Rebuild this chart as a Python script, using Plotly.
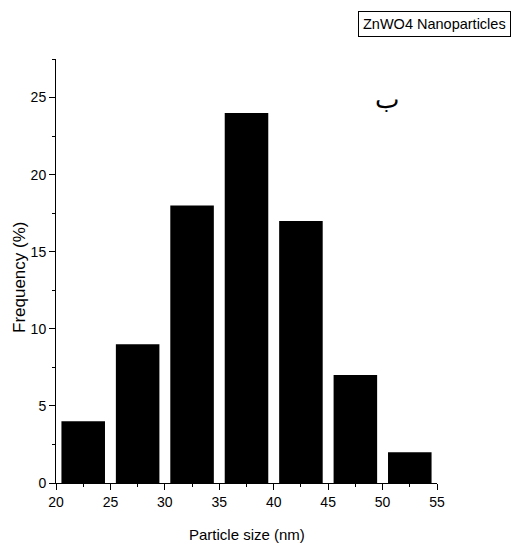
import plotly.graph_objects as go

bin_centers = [22.5, 27.5, 32.5, 37.5, 42.5, 47.5, 52.5]
frequency = [4, 9, 18, 24, 17, 7, 2]
x_ticks = [20, 25, 30, 35, 40, 45, 50, 55]
y_ticks = [0, 5, 10, 15, 20, 25]
x_title = "Particle size (nm)"
y_title = "Frequency (%)"
legend_label = "ZnWO4 Nanoparticles"
panel_label = "ب"

FONT = "Liberation Sans, Arial, sans-serif"
L, R, T, B = 56, 77, 59, 63
W, H = 514, 546
PW, PH = W - L - R, H - T - B


def px(xp):
    return (xp - L) / PW


def py(yp):
    return (H - B - yp) / PH


fig = go.Figure()
fig.add_trace(go.Bar(
    x=bin_centers, y=frequency, width=4,
    marker=dict(color="black", line=dict(width=0)),
    showlegend=False,
))

axis_common = dict(
    ticks="outside", ticklen=6, tickwidth=1, tickcolor="black",
    showline=True, linecolor="black", linewidth=1,
    showgrid=False, zeroline=False, tickfont=dict(size=14),
    automargin=False,
)

fig.update_layout(
    width=W, height=H,
    margin=dict(l=L, r=R, t=T, b=B),
    paper_bgcolor="white", plot_bgcolor="white",
    font=dict(family=FONT, color="black", size=14),
    xaxis=dict(
        range=[20, 55], tickvals=x_ticks,
        minor=dict(dtick=2.5, tick0=20, ticks="outside", ticklen=3, tickcolor="black", showgrid=False),
        **axis_common,
    ),
    yaxis=dict(
        range=[0, 27.5], tickvals=y_ticks,
        minor=dict(dtick=2.5, tick0=0, ticks="outside", ticklen=3, tickcolor="black", showgrid=False),
        **axis_common,
    ),
    annotations=[
        dict(text=x_title, xref="paper", yref="paper", x=px(247), y=py(534),
             xanchor="center", yanchor="middle", showarrow=False, font=dict(size=15)),
        dict(text=y_title, xref="paper", yref="paper", x=px(19), y=py(278),
             xanchor="center", yanchor="middle", showarrow=False, textangle=-90,
             font=dict(size=17)),
        dict(text=legend_label, xref="paper", yref="paper", x=px(511), y=py(11),
             xanchor="right", yanchor="top", showarrow=False, bordercolor="black", borderwidth=1,
             borderpad=4, bgcolor="white", font=dict(size=14.5)),
        dict(text=panel_label, xref="paper", yref="paper", x=px(387), y=py(99),
             xanchor="center", yanchor="middle", showarrow=False,
             font=dict(size=26, family="Liberation Serif, DejaVu Serif, serif")),
    ],
)

fig.write_html("out.html")
